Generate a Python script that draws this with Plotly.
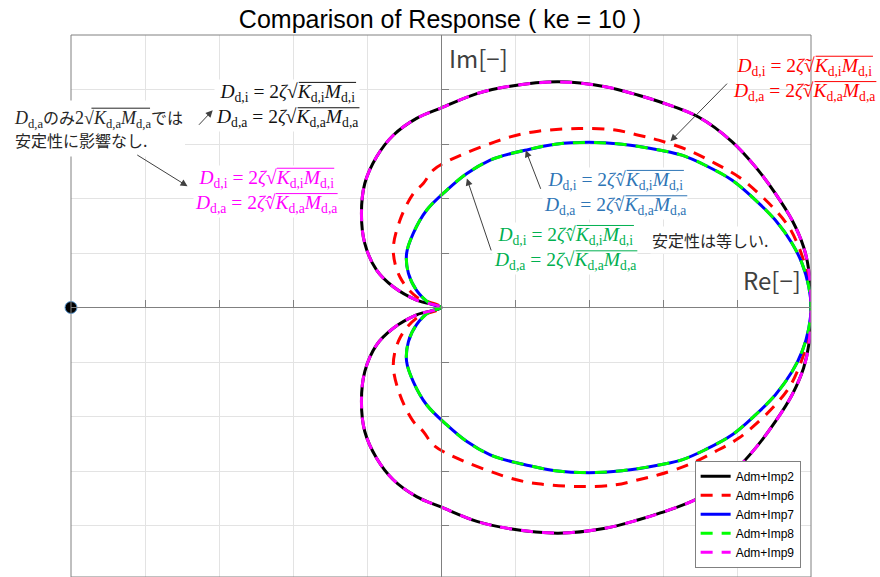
import plotly.graph_objects as go

# Upper half of each Nyquist locus, from (1, 0) round to the origin.
# The lower half is the complex conjugate.
RE_OUTER = [1.000, 0.994, 0.980, 0.949, 0.904, 0.850, 0.787, 0.696, 0.593, 0.534,
            0.444, 0.317, 0.187, 0.097, 0.000, -0.066, -0.129, -0.174, -0.206,
            -0.215, -0.206, -0.174, -0.129, -0.066, 0.000]
IM_OUTER = [0.000, 0.137, 0.222, 0.320, 0.418, 0.516, 0.608, 0.699, 0.754, 0.779,
            0.810, 0.828, 0.812, 0.785, 0.732, 0.694, 0.632, 0.553, 0.455,
            0.345, 0.235, 0.137, 0.076, 0.027, 0.000]

RE_MID = [1.000, 0.999, 0.985, 0.967, 0.940, 0.904, 0.859, 0.805, 0.742, 0.669,
          0.588, 0.534, 0.471, 0.372, 0.263, 0.187, 0.024, -0.021, -0.048,
          -0.075, -0.111, -0.129, -0.111, -0.066, 0.000]
IM_MID = [0.000, 0.063, 0.149, 0.222, 0.296, 0.357, 0.418, 0.479, 0.528, 0.577,
          0.614, 0.632, 0.651, 0.657, 0.647, 0.626, 0.541, 0.504, 0.455,
          0.418, 0.320, 0.210, 0.112, 0.039, 0.000]

RE_INNER = [1.000, 0.994, 0.976, 0.949, 0.904, 0.850, 0.787, 0.714, 0.651, 0.593,
            0.489, 0.399, 0.309, 0.227, 0.173, 0.133, 0.070, 0.015, -0.039,
            -0.075, -0.093, -0.088, -0.066, -0.030, 0.000]
IM_INNER = [0.000, 0.076, 0.161, 0.235, 0.320, 0.394, 0.467, 0.522, 0.559, 0.577,
            0.599, 0.606, 0.599, 0.577, 0.559, 0.541, 0.492, 0.430, 0.357,
            0.272, 0.198, 0.125, 0.063, 0.015, 0.000]

SERIES_NAMES = ["Adm+Imp2", "Adm+Imp6", "Adm+Imp7", "Adm+Imp8", "Adm+Imp9"]
SERIES_LOCUS = ["outer", "mid", "inner", "inner", "outer"]
SERIES_COLORS = ["#000000", "#FF0000", "#0000FF", "#00FF00", "#FF00FF"]
SERIES_DASH = ["solid", "12px,9px", "solid", "12px,9px", "12px,9px"]

CRITICAL_POINT = (-1.0, 0.0)
TICK_STEP = 0.2

LOCI = {
    "outer": (RE_OUTER, IM_OUTER),
    "mid": (RE_MID, IM_MID),
    "inner": (RE_INNER, IM_INNER),
}


def closed_loop(re_up, im_up):
    """Join the conjugate (negative-frequency) branch to the upper branch."""
    re = list(reversed(re_up)) + list(re_up[1:])
    im = [-v for v in reversed(im_up)] + list(im_up[1:])
    return re, im


fig = go.Figure()
for name, locus, color, dash in zip(SERIES_NAMES, SERIES_LOCUS, SERIES_COLORS, SERIES_DASH):
    re, im = closed_loop(*LOCI[locus])
    fig.add_trace(go.Scatter(
        x=re, y=im, mode="lines", name=name,
        line=dict(color=color, width=3, dash=dash, shape="spline", smoothing=1.0),
        hoverinfo="skip",
    ))

fig.add_trace(go.Scatter(
    x=[CRITICAL_POINT[0]], y=[CRITICAL_POINT[1]], mode="markers", showlegend=False,
    marker=dict(size=12, color="#000000", line=dict(color="#5B9BD5", width=1)),
    cliponaxis=False, hoverinfo="skip",
))

X_RANGE = [-1.0, 1.0]
Y_RANGE = [-0.989, 1.0]
x_zero_pos = (0 - Y_RANGE[0]) / (Y_RANGE[1] - Y_RANGE[0])
y_zero_pos = (0 - X_RANGE[0]) / (X_RANGE[1] - X_RANGE[0])

axis_common = dict(
    showgrid=True, gridcolor="#E3E3E3", gridwidth=1,
    zeroline=False, showticklabels=False,
    showline=True, linecolor="#808080", linewidth=1,
    ticks="inside", ticklen=7, tickwidth=1, tickcolor="#808080",
    dtick=TICK_STEP, tick0=0,
    anchor="free",
)
fig.update_xaxes(range=X_RANGE, position=x_zero_pos, **axis_common)
fig.update_yaxes(range=Y_RANGE, position=y_zero_pos, **axis_common)

# plot frame
fig.add_shape(type="rect", xref="paper", yref="paper", x0=0, x1=1, y0=0, y1=1,
              line=dict(color="#808080", width=1), layer="above")

MATH_FONT = "Liberation Serif, DejaVu Serif, serif"
JP_FONT = "Noto Sans CJK JP, sans-serif"
MATH_SIZE = 19.5
NOTE_SIZE = 18
NOTE_JP_SIZE = 16
ZETA = "ζ"
ZETA_TILDE = "ζ\u0303"
ZETA_HAT = "ζ\u0302"

# advance widths (em) of the formula pieces in the serif face
EM_D_SUB_I = 0.722 + 0.720      # D + "d,i" at 70 %
EM_D_SUB_A = 0.722 + 0.836      # D + "d,a" at 70 %
EM_EQ_2Z_ROOT = 1.064 + 0.5 + 0.44 + 0.549   # " = 2ζ√"
EM_RAD_I = 0.667 + 0.720 + 0.833 + 0.720     # K d,i M d,i
EM_RAD_A = 0.667 + 0.836 + 0.833 + 0.836     # K d,a M d,a


def radicand(sub):
    return f"<i>K</i><sub>d,{sub}</sub><i>M</i><sub>d,{sub}</sub>"


def damping_line(sub, zeta):
    return f"<i>D</i><sub>d,{sub}</sub> = 2<i>{zeta}</i>√" + radicand(sub)


def damping_pair(zeta_i, zeta_a):
    return damping_line("i", zeta_i) + "<br>" + damping_line("a", zeta_a)


def add_vinculum(xref, yref, x, y, x0, x1, up, color):
    """Bar of a square root, given in pixels relative to a label anchor."""
    fig.add_annotation(xref=xref, yref=yref, x=x, y=y, xshift=x1, yshift=up,
                       ax=x0 - x1, ay=0, axref="pixel", ayref="pixel", text="",
                       showarrow=True, arrowhead=0, arrowwidth=1, arrowcolor=color,
                       standoff=0, startstandoff=0)


math_labels = [
    # (text, x, y, colour, background)
    (damping_pair(ZETA, ZETA), -0.415, 0.742, "#111111", "white"),
    (damping_pair(ZETA, ZETA_HAT), -0.474, 0.427, "#FF00FF", "white"),
    (damping_pair(ZETA_TILDE, ZETA_TILDE), 0.982, 0.838, "#FF0000", "rgba(0,0,0,0)"),
    (damping_pair(ZETA_HAT, ZETA_HAT), 0.471, 0.419, "#2E75B6", "white"),
    (damping_pair(ZETA_HAT, ZETA), 0.336, 0.217, "#00B050", "white"),
]
# both lines are centred; first-line bar sits above the anchor, second below
line_i_half = (EM_D_SUB_I + EM_EQ_2Z_ROOT + EM_RAD_I) * MATH_SIZE / 2
line_a_half = (EM_D_SUB_A + EM_EQ_2Z_ROOT + EM_RAD_A) * MATH_SIZE / 2
bars = [
    (line_i_half - EM_RAD_I * MATH_SIZE - 0.5, line_i_half + 1, 22.9),
    (line_a_half - EM_RAD_A * MATH_SIZE - 0.5, line_a_half + 1, -2.45),
]
for text, x, y, color, bg in math_labels:
    fig.add_annotation(x=x, y=y, text=text, showarrow=False, xanchor="center",
                       yanchor="middle", align="center", bgcolor=bg, borderpad=1,
                       font=dict(family=MATH_FONT, size=MATH_SIZE, color=color))
    for x0, x1, up in bars:
        add_vinculum("x", "y", x, y, x0, x1, up, color)

# note on the left: a white panel and the root bar sit under its text
jp = f'<span style="font-family:{JP_FONT};font-size:{NOTE_JP_SIZE}px">'
note_text = ("<i>D</i><sub>d,a</sub>" + jp + "のみ</span>2√" + radicand("a")
             + jp + "では</span><br>" + jp + "安定性に影響なし.</span>")
NOTE_X, NOTE_Y = -0.0797, 0.8275
note_shape = dict(xref="paper", yref="paper", xsizemode="pixel", ysizemode="pixel",
                  xanchor=NOTE_X, yanchor=NOTE_Y, layer="above")
fig.add_shape(type="rect", x0=0, x1=173, y0=-28, y1=28,
              fillcolor="white", line=dict(width=0), **note_shape)
note_rad_start = 1 + EM_D_SUB_A * NOTE_SIZE + 2 * NOTE_JP_SIZE + (0.5 + 0.549) * NOTE_SIZE
fig.add_shape(type="line", x0=note_rad_start - 0.5,
              x1=note_rad_start + EM_RAD_A * NOTE_SIZE + 1, y0=20.3, y1=20.3,
              line=dict(color="#262626", width=1), **note_shape)
fig.add_annotation(xref="paper", yref="paper", x=NOTE_X, y=NOTE_Y, text=note_text,
                   showarrow=False, xanchor="left", yanchor="middle", align="left",
                   borderpad=1,
                   font=dict(family=MATH_FONT, size=NOTE_SIZE, color="#262626"))

fig.add_annotation(x=0.727, y=0.247, text="安定性は等しい.", showarrow=False,
                   xanchor="center", yanchor="middle", bgcolor="white",
                   font=dict(family=JP_FONT, size=16, color="#262626"))

fig.add_annotation(x=0.100, y=0.917, text="Im[−]", showarrow=False,
                   xanchor="center", yanchor="middle",
                   font=dict(family=JP_FONT, size=24, color="#404040"))
fig.add_annotation(x=0.895, y=0.104, text="Re[−]", showarrow=False,
                   xanchor="center", yanchor="middle",
                   font=dict(family=JP_FONT, size=24, color="#404040"))

# pointer arrows: (head x, head y, tail x, tail y)
arrows = [
    (-0.617, 0.724, -0.658, 0.665),
    (-0.685, 0.445, -0.825, 0.563),
    (0.620, 0.610, 0.777, 0.827),
    (0.229, 0.577, 0.271, 0.430),
    (0.070, 0.473, 0.137, 0.204),
]
for hx, hy, tx, ty in arrows:
    fig.add_annotation(x=hx, y=hy, ax=tx, ay=ty, axref="x", ayref="y", text="",
                       showarrow=True, arrowhead=2, arrowsize=1.4, arrowwidth=1,
                       arrowcolor="#404040", standoff=0, startstandoff=0)

fig.update_layout(
    width=880, height=577,
    margin=dict(l=71, r=69, t=35, b=0),
    paper_bgcolor="white", plot_bgcolor="white",
    title=dict(text="Comparison of Response ( ke = 10 )", x=0.5, xanchor="center",
               y=1 - 19 / 577, yanchor="middle",
               font=dict(family="Liberation Sans, Arial, sans-serif",
                         size=25, color="#000000")),
    showlegend=True,
    legend=dict(x=0.986, y=0.017, xanchor="right", yanchor="bottom",
                bgcolor="white", bordercolor="#808080", borderwidth=1,
                font=dict(family="Liberation Sans, Arial, sans-serif", size=12, color="#000000"),
                tracegroupgap=0, itemwidth=30),
)

fig.write_html("out.html")
